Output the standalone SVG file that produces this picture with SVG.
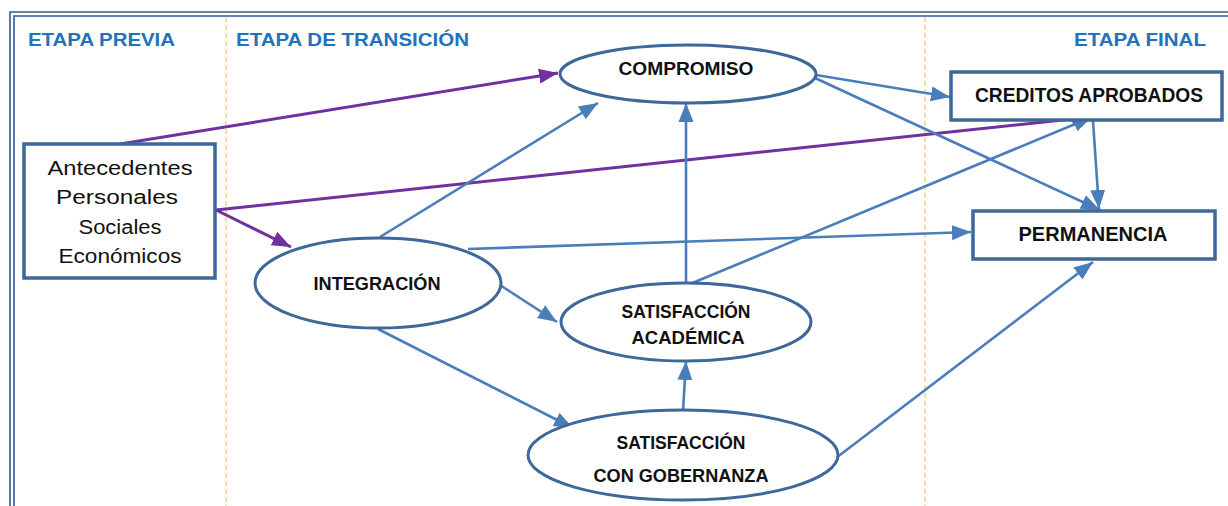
<svg xmlns="http://www.w3.org/2000/svg" width="1228" height="506" viewBox="0 0 1228 506">
<style>
.frame{fill:none;stroke:#2f5a9a;stroke-width:1.6}
.stage{stroke:#f2c94c;stroke-width:1.2;stroke-dasharray:5 3;fill:none}
.hdr{font-family:"Liberation Sans",Arial,sans-serif;font-size:19px;font-weight:bold;fill:#2272bd}
.box{fill:#fff;stroke:#3d6899;stroke-width:3.5}
.ell{fill:#fff;stroke:#3d6899;stroke-width:3}
.t{font-family:"Liberation Sans",Arial,sans-serif;font-size:19px;font-weight:bold;fill:#111;text-anchor:middle}
.ta{font-family:"Liberation Sans",Arial,sans-serif;font-size:20px;fill:#111;text-anchor:middle}
.b{stroke:#4a7ebb;stroke-width:2.6;fill:none;marker-end:url(#ab)}
.p{stroke:#7030a0;stroke-width:3;fill:none;marker-end:url(#ap)}
</style>
<defs>
<marker id="ab" markerUnits="userSpaceOnUse" markerWidth="22" markerHeight="18" refX="19" refY="9" orient="auto"><path d="M0,1.5 L19,9 L0,16.5 Z" fill="#4a7ebb"/></marker>
<marker id="ap" markerUnits="userSpaceOnUse" markerWidth="22" markerHeight="18" refX="19" refY="9" orient="auto"><path d="M0,1.5 L19,9 L0,16.5 Z" fill="#7030a0"/></marker>
</defs>
<rect width="1228" height="506" fill="#fff"/>
<g id="frame">
<path class="frame" d="M10,506 V12 H1228"/>
<path class="frame" d="M14,506 V16 H1228"/>
<line class="stage" x1="226" y1="17" x2="226" y2="506"/>
<line class="stage" x1="925" y1="17" x2="925" y2="506"/>
</g>
<g id="headers">
<text class="hdr" x="28" y="46" textLength="147" lengthAdjust="spacingAndGlyphs">ETAPA PREVIA</text>
<text class="hdr" x="236" y="46" textLength="233" lengthAdjust="spacingAndGlyphs">ETAPA DE TRANSICIÓN</text>
<text class="hdr" x="1074" y="46" textLength="132" lengthAdjust="spacingAndGlyphs">ETAPA FINAL</text>
</g>
<g id="connectors">
<line class="p" x1="120" y1="144" x2="558" y2="73"/>
<line class="p" x1="216" y1="210" x2="1091" y2="117"/>
<line class="p" x1="216" y1="210" x2="291" y2="247"/>
<line class="b" x1="380" y1="237" x2="598" y2="103"/>
<line class="b" x1="468" y1="249" x2="971" y2="232"/>
<line class="b" x1="500" y1="285" x2="557" y2="322"/>
<line class="b" x1="378" y1="329" x2="573" y2="428"/>
<line class="b" x1="686" y1="283" x2="686" y2="103"/>
<line class="b" x1="690" y1="284" x2="1092" y2="117"/>
<line class="b" x1="683" y1="411" x2="686" y2="361"/>
<line class="b" x1="836" y1="458" x2="1093" y2="262"/>
<line class="b" x1="816" y1="75" x2="950" y2="97"/>
<line class="b" x1="815" y1="78" x2="1100" y2="210"/>
<line class="b" x1="1093" y1="121" x2="1099" y2="209"/>
</g>
<g id="antecedentes">
<rect class="box" x="24" y="144" width="191" height="134"/>
<text class="ta" x="120" y="175" textLength="145" lengthAdjust="spacingAndGlyphs">Antecedentes</text>
<text class="ta" x="117" y="204" textLength="122" lengthAdjust="spacingAndGlyphs">Personales</text>
<text class="ta" x="120" y="234" textLength="83" lengthAdjust="spacingAndGlyphs">Sociales</text>
<text class="ta" x="120" y="263" textLength="123" lengthAdjust="spacingAndGlyphs">Económicos</text>
</g>
<g id="compromiso">
<ellipse class="ell" cx="688" cy="74" rx="128" ry="29"/>
<text class="t" x="686" y="75" textLength="135" lengthAdjust="spacingAndGlyphs">COMPROMISO</text>
</g>
<g id="creditos">
<rect class="box" x="951" y="72" width="271" height="48"/>
<text class="t" x="1089" y="102" textLength="228" lengthAdjust="spacingAndGlyphs" style="font-size:20px">CREDITOS APROBADOS</text>
</g>
<g id="permanencia">
<rect class="box" x="973" y="211" width="242" height="48"/>
<text class="t" x="1093" y="241" textLength="149" lengthAdjust="spacingAndGlyphs" style="font-size:20px">PERMANENCIA</text>
</g>
<g id="integracion">
<ellipse class="ell" cx="378" cy="283" rx="123" ry="45"/>
<text class="t" x="377" y="290" textLength="127" lengthAdjust="spacingAndGlyphs">INTEGRACIÓN</text>
</g>
<g id="sat-academica">
<ellipse class="ell" cx="686" cy="322" rx="125" ry="39"/>
<text class="t" x="686" y="318" textLength="129" lengthAdjust="spacingAndGlyphs">SATISFACCIÓN</text>
<text class="t" x="688" y="344" textLength="113" lengthAdjust="spacingAndGlyphs">ACADÉMICA</text>
</g>
<g id="sat-gobernanza">
<ellipse class="ell" cx="683" cy="455" rx="155" ry="45"/>
<text class="t" x="681" y="449" textLength="129" lengthAdjust="spacingAndGlyphs">SATISFACCIÓN</text>
<text class="t" x="681" y="482" textLength="175" lengthAdjust="spacingAndGlyphs">CON GOBERNANZA</text>
</g>
</svg>
